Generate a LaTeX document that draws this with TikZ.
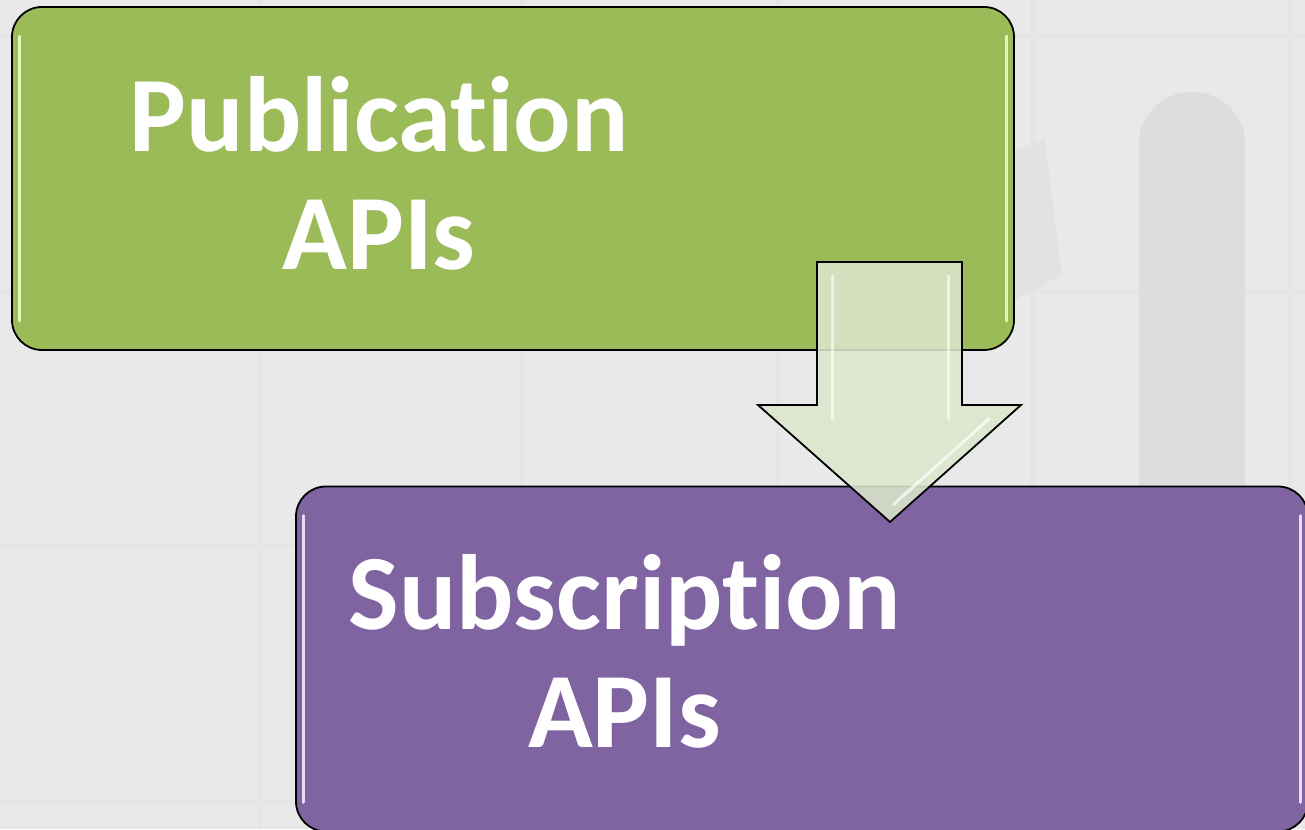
\documentclass[tikz,border=0pt]{standalone}
\usepackage{fontspec}
\setmainfont{Carlito}[Ligatures=NoCommon]
\definecolor{bgcol}{HTML}{E9E9E9}
\definecolor{gridcol}{HTML}{E5E5E5}
\definecolor{barcol}{HTML}{DDDDDD}
\definecolor{pubgreen}{HTML}{9BBB59}
\definecolor{pubhi}{HTML}{E4F7B8}
\definecolor{subpurple}{HTML}{8064A2}
\definecolor{subhi}{HTML}{E8DDF7}
\definecolor{arrowfill}{HTML}{DCE6CB}
\tikzset{
  boxshape/.style={draw=black, line width=1.8pt, rounded corners=30pt, inner sep=0pt},
  boxtext/.style={text=white, font=\bfseries\fontsize{107}{118}\selectfont, align=center, anchor=base, inner sep=0pt},
  blockarrow/.style={draw=black, line width=1.8pt, fill=arrowfill, fill opacity=0.88, line join=miter},
  highlight/.style={line width=3pt, line cap=round},
}
\begin{document}
\begin{tikzpicture}[x=1pt,y=1pt]
\fill[bgcol] (0,0) rectangle (1305,829);
\useasboundingbox (0,0) rectangle (1305,829);
% faint background grid and shapes
\foreach \gx in {258,520,775,1030,1288} {\fill[gridcol] (\gx,0) rectangle (\gx+5,829);}
\foreach \gy in {24,280,535,790} {\fill[gridcol] (0,\gy) rectangle (1305,\gy+5);}
\fill[barcol, rounded corners=52pt] (1139,-60) rectangle (1245,829-92);
\fill[barcol!60!bgcol] (1015,829-150) -- (1045,829-140) -- (1062,829-275) -- (1015,829-300) -- cycle;
% boxes
\node[boxshape, fill=pubgreen, minimum width=1002pt, minimum height=343pt] (pub) at (513,829-178.5) {};
\draw[highlight, pubhi] ([xshift=8pt,yshift=-30pt]pub.north west) -- ([xshift=8pt,yshift=30pt]pub.south west);
\draw[highlight, pubhi] ([xshift=-8pt,yshift=-30pt]pub.north east) -- ([xshift=-8pt,yshift=30pt]pub.south east);
\node[boxtext] (pubtext) at (379,829-270) {Publication\\APIs};
\node[boxshape, fill=subpurple, minimum width=1012pt, minimum height=345pt] (sub) at (802,829-659) {};
\draw[highlight, subhi] ([xshift=8pt,yshift=-30pt]sub.north west) -- ([xshift=8pt,yshift=30pt]sub.south west);
\draw[highlight, subhi] ([xshift=-8pt,yshift=-30pt]sub.north east) -- ([xshift=-8pt,yshift=30pt]sub.south east);
\node[boxtext] (subtext) at (624.5,829-748) {Subscription\\APIs};
% block arrow from pub to sub
\coordinate (tip) at (890,829-522);
\draw[blockarrow] (817,829-262) -- (962,829-262) -- (962,829-405) -- (1021,829-405) -- (tip) -- (758,829-405) -- (817,829-405) -- cycle;
\draw[white, opacity=0.6, line width=3pt] (832,829-275) -- (832,829-420);
\draw[white, opacity=0.6, line width=3pt] (948,829-275) -- (948,829-420);
\draw[white, opacity=0.7, line width=3pt] (990,829-418) -- (893,829-505);
\end{tikzpicture}
\end{document}
